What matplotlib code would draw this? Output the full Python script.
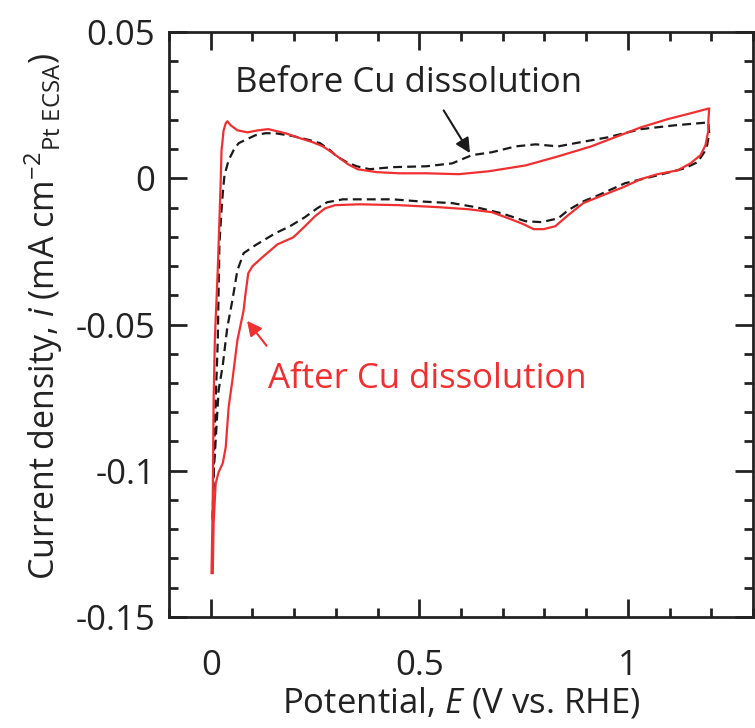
import matplotlib
matplotlib.use("Agg")
import matplotlib.pyplot as plt
from matplotlib.ticker import MultipleLocator, FuncFormatter

plt.rcParams['font.family'] = ['Open Sans', 'DejaVu Sans']
plt.rcParams['mathtext.fontset'] = 'custom'
plt.rcParams['mathtext.rm'] = 'Open Sans'
plt.rcParams['mathtext.it'] = 'Open Sans:italic'
plt.rcParams['axes.unicode_minus'] = False

# After Cu dissolution (red, solid)
after_E = [0.002, 0.005, 0.007, 0.010, 0.017, 0.021, 0.024, 0.026, 0.031, 0.036, 0.040, 0.048,
           0.064, 0.088, 0.114, 0.138, 0.179, 0.214, 0.245, 0.269, 0.290, 0.310, 0.329, 0.352,
           0.398, 0.452, 0.517, 0.595, 0.667, 0.755, 0.833, 0.912, 0.976, 1.031, 1.095, 1.150,
           1.195,
           1.193, 1.193, 1.186, 1.174, 1.150, 1.119, 1.071, 1.031, 0.988, 0.940, 0.893, 0.857,
           0.826, 0.798, 0.774, 0.750, 0.714, 0.674, 0.619, 0.548, 0.452, 0.357, 0.298, 0.274,
           0.250, 0.226, 0.198, 0.160, 0.124, 0.100, 0.090, 0.083, 0.079, 0.064, 0.052, 0.043,
           0.036, 0.029, 0.019, 0.012, 0.007, 0.005]
after_i = [-0.135, -0.110, -0.076, -0.055, -0.031, -0.014, -0.001, 0.0096, 0.0164, 0.0188, 0.0195, 0.0181,
           0.0164, 0.0157, 0.0164, 0.0168, 0.0154, 0.0137, 0.0123, 0.0109, 0.0089, 0.0068, 0.0048, 0.0031,
           0.0021, 0.0017, 0.0017, 0.0014, 0.0024, 0.0044, 0.0075, 0.0109, 0.0144, 0.0174, 0.0202, 0.0222,
           0.0239,
           0.0198, 0.0164, 0.0113, 0.0079, 0.0051, 0.0027, 0.0014, -0.0003, -0.0031, -0.0058, -0.0085, -0.0126,
           -0.0164, -0.0174, -0.0174, -0.0157, -0.0137, -0.0116, -0.0106, -0.0099, -0.0092, -0.0089, -0.0092, -0.0103,
           -0.0130, -0.0164, -0.0202, -0.0226, -0.0270, -0.0301, -0.0325, -0.0400, -0.0451, -0.0554, -0.0691, -0.0783,
           -0.0920, -0.0974, -0.1005, -0.1043, -0.1179, -0.135]

# Before Cu dissolution (black, dashed)
before_E = [0.005, 0.007, 0.012, 0.017, 0.019, 0.021, 0.026, 0.029, 0.033, 0.043, 0.055, 0.067,
            0.086, 0.107, 0.131, 0.155, 0.198, 0.238, 0.262, 0.286, 0.302, 0.326, 0.350, 0.381,
            0.436, 0.517, 0.579, 0.626, 0.674, 0.731, 0.779, 0.833, 0.874, 0.952, 1.031, 1.112,
            1.193,
            1.195, 1.190, 1.183, 1.167, 1.136, 1.071, 0.993, 0.929, 0.893, 0.857, 0.833, 0.793,
            0.755, 0.698, 0.636, 0.579, 0.500, 0.436, 0.317, 0.279, 0.255, 0.226, 0.190, 0.155,
            0.107, 0.079, 0.064, 0.052, 0.040, 0.036, 0.029, 0.019, 0.012, 0.007, 0.005, 0.005]
before_i = [-0.117, -0.0998, -0.0759, -0.0554, -0.0383, -0.0222, -0.0109, -0.0051, 0.0010, 0.0062, 0.0096, 0.0120,
            0.0133, 0.0147, 0.0154, 0.0154, 0.0144, 0.0130, 0.0120, 0.0096, 0.0075, 0.0055, 0.0041, 0.0031,
            0.0038, 0.0041, 0.0051, 0.0079, 0.0089, 0.0109, 0.0116, 0.0109, 0.0120, 0.0140, 0.0168, 0.0181,
            0.0191,
            0.0154, 0.0113, 0.0089, 0.0055, 0.0034, 0.0010, -0.0017, -0.0058, -0.0079, -0.0109, -0.0137, -0.0150,
            -0.0147, -0.0120, -0.0099, -0.0085, -0.0079, -0.0072, -0.0072, -0.0082, -0.0103, -0.0133, -0.0164, -0.0188,
            -0.0229, -0.0256, -0.0315, -0.0417, -0.0509, -0.0554, -0.0639, -0.0725, -0.0896, -0.1009, -0.1145, -0.117]

x_ticks = [0, 0.5, 1]
y_ticks = [0.05, 0, -0.05, -0.1, -0.15]

RED = '#f03030'
INK = '#222222'

fig = plt.figure(figsize=(7.55, 7.28), dpi=100)
ax = fig.add_axes([0.2238, 0.1525, 0.7736, 0.8035])

ax.plot(before_E, before_i, color='#1a1a1a', lw=1.6, linestyle=(0, (4, 2.3)))
ax.plot(after_E, after_i, color=RED, lw=1.6)

ax.set_xlim(-0.1, 1.3)
ax.set_ylim(-0.15, 0.05)
ax.set_xticks(x_ticks)
ax.set_yticks(y_ticks)
ax.xaxis.set_minor_locator(MultipleLocator(0.1))
ax.yaxis.set_minor_locator(MultipleLocator(0.01))
fmt = FuncFormatter(lambda v, p: ('%g' % round(v, 4)))
ax.xaxis.set_major_formatter(fmt)
ax.yaxis.set_major_formatter(fmt)

ax.tick_params(which='both', direction='in', top=True, right=True, width=2, color=INK)
ax.tick_params(which='major', length=13)
ax.tick_params(which='minor', length=6.5)
ax.tick_params(axis='x', which='major', pad=23, labelsize=25, labelcolor=INK)
ax.tick_params(axis='y', which='major', pad=10, labelsize=25, labelcolor=INK)
for s in ax.spines.values():
    s.set_linewidth(2)
    s.set_color(INK)

ax.set_xlabel('Potential, $E$ (V vs. RHE)', fontsize=25, color=INK, labelpad=2)
ax.set_ylabel('Current density, $i$ (mA cm$^{-2}$$_{\\rm Pt\\ ECSA}$)', fontsize=24.5, color=INK)
ax.yaxis.set_label_coords(-0.178, 0.514)

ax.annotate('', xy=(0.625, 0.0078), xytext=(0.555, 0.024),
            arrowprops=dict(arrowstyle='-|>', color='#1a1a1a', lw=1.5, mutation_scale=22))
ax.text(0.058, 0.0325, 'Before Cu dissolution', fontsize=25, color=INK, va='center', ha='left')

ax.annotate('', xy=(0.083, -0.0480), xytext=(0.138, -0.0580),
            arrowprops=dict(arrowstyle='-|>', color=RED, lw=1.5, mutation_scale=22))
ax.text(0.138, -0.0685, 'After Cu dissolution', fontsize=25, color=RED, va='center', ha='left')

fig.savefig('out.png', dpi=100)
